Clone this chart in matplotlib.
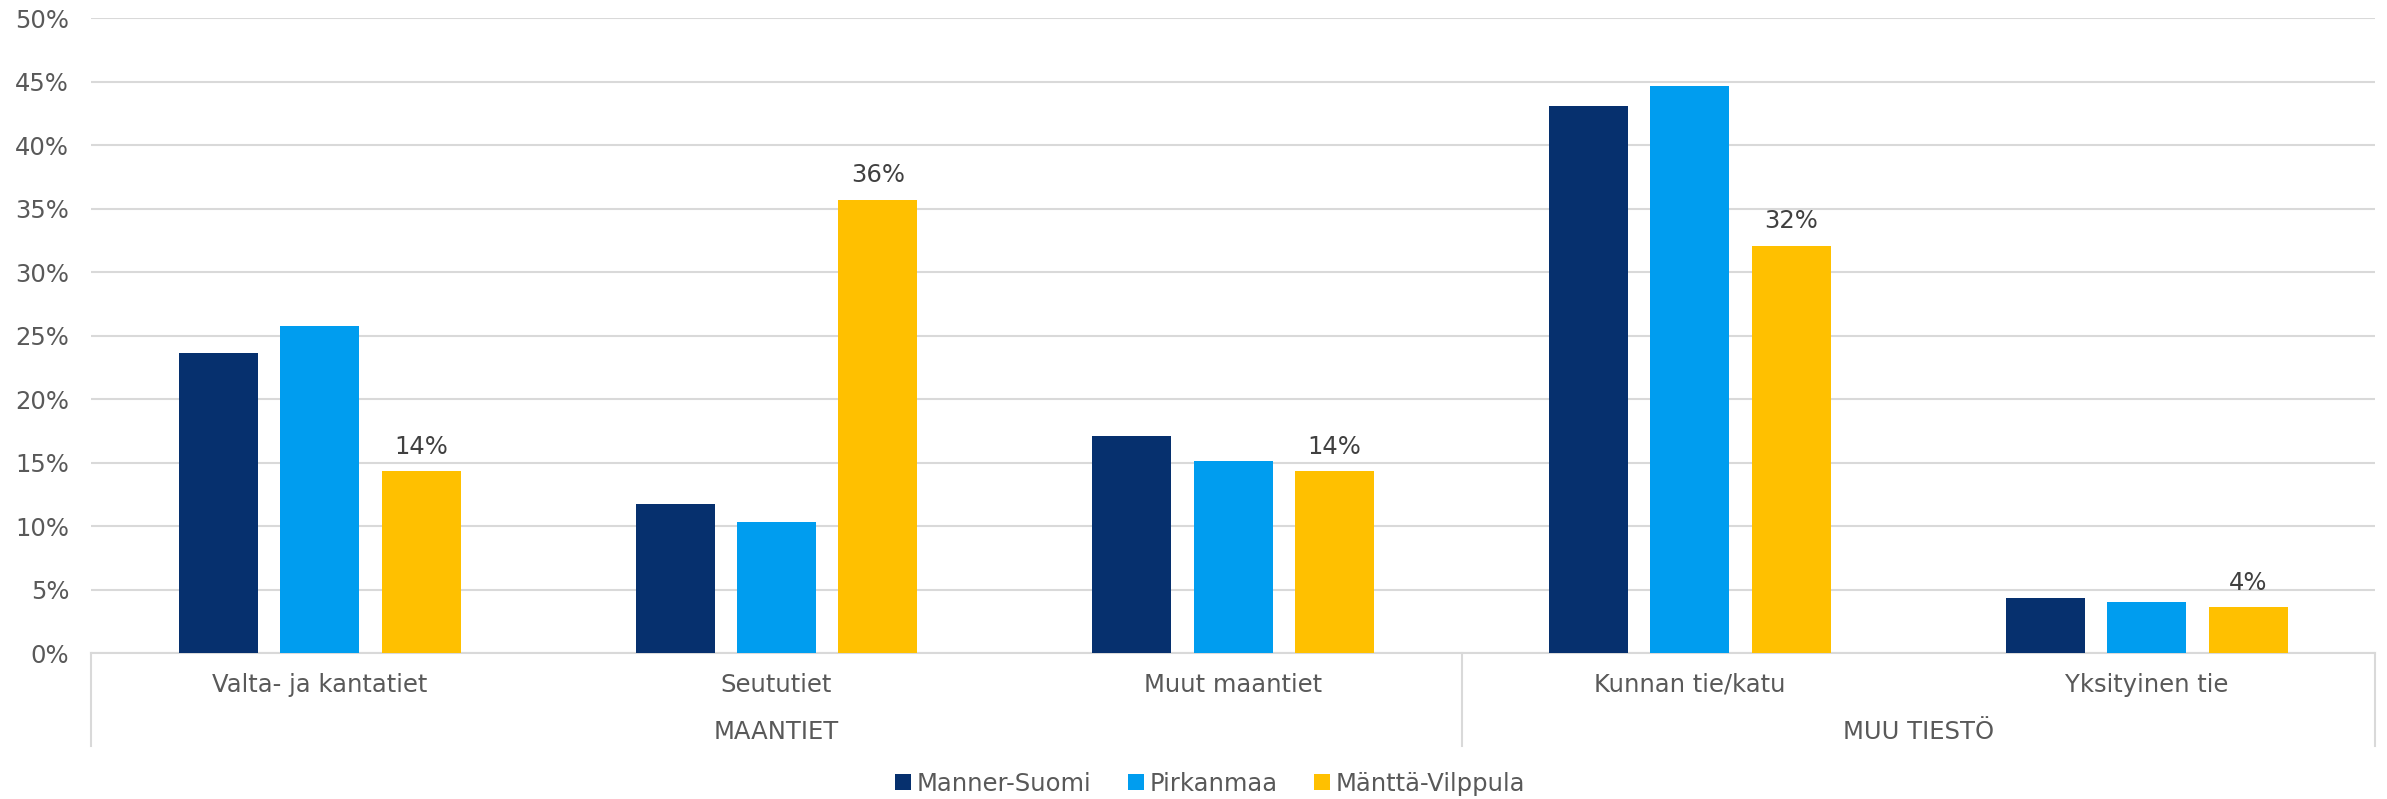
import matplotlib.pyplot as plt
import matplotlib.transforms as mtransforms
import numpy as np

categories = ["Valta- ja kantatiet", "Seututiet", "Muut maantiet", "Kunnan tie/katu", "Yksityinen tie"]
groups = ["MAANTIET", "MUU TIESTÖ"]
group_spans = [(0, 2), (3, 4)]
series = ["Manner-Suomi", "Pirkanmaa", "Mänttä-Vilppula"]
manner_suomi = [23.6, 11.7, 17.1, 43.1, 4.3]
pirkanmaa = [25.8, 10.3, 15.1, 44.7, 4.0]
mantta_vilppula = [14.3, 35.7, 14.3, 32.1, 3.6]
yticks = [0, 5, 10, 15, 20, 25, 30, 35, 40, 45, 50]

colors = ["#06306E", "#009DEF", "#FFC000"]
text_color = "#595959"
grid_color = "#D9D9D9"
fs = 17.5

plt.rcParams["font.family"] = ["DejaVu Sans"]

fig = plt.figure(figsize=(23.87, 7.99), dpi=100)
ax = fig.add_axes([0.0383, 0.1827, 0.9567, 0.7944])

x = np.arange(len(categories))
width = 0.173
offsets = [-0.222, 0, 0.222]
values = [manner_suomi, pirkanmaa, mantta_vilppula]
for i, (name, vals) in enumerate(zip(series, values)):
    bars = ax.bar(x + offsets[i], vals, width, color=colors[i], label=name, zorder=3)
    if i == 2:
        for b, v in zip(bars, vals):
            ax.annotate(f"{v:.0f}%", (b.get_x() + b.get_width() / 2, v),
                        xytext=(0, 9), textcoords="offset points",
                        ha="center", va="bottom", fontsize=fs, color="#404040")

ax.set_xlim(-0.5, len(categories) - 0.5)
ax.set_ylim(0, 50)
ax.set_yticks(yticks)
ax.set_yticklabels([f"{t}%" for t in yticks])
ax.yaxis.grid(True, color=grid_color, linewidth=1.5, zorder=0)
ax.tick_params(axis="y", length=0, labelsize=fs, labelcolor=text_color, pad=16)
ax.set_xticks([])
for s in ["top", "right", "left"]:
    ax.spines[s].set_visible(False)
ax.spines["bottom"].set_color(grid_color)
ax.spines["bottom"].set_linewidth(1.5)

trans = mtransforms.blended_transform_factory(ax.transData, ax.transAxes)
for i, c in enumerate(categories):
    ax.text(i, -0.05, c, transform=trans, ha="center", va="center",
            fontsize=fs, color=text_color)
for g, (a, b) in zip(groups, group_spans):
    ax.text((a + b) / 2, -0.124, g, transform=trans, ha="center", va="center",
            fontsize=fs, color=text_color)
for sep in [-0.5, 2.5, 4.5]:
    ax.plot([sep, sep], [0, -0.147], transform=trans, color=grid_color,
            linewidth=1.5, clip_on=False)

fig.legend(loc="center", bbox_to_anchor=(0.507, 0.019), ncol=3, frameon=False,
           fontsize=fs, labelcolor=text_color, handlelength=0.65, handleheight=0.65,
           handletextpad=0.25, columnspacing=1.5)

fig.savefig("out.png", dpi=100)
